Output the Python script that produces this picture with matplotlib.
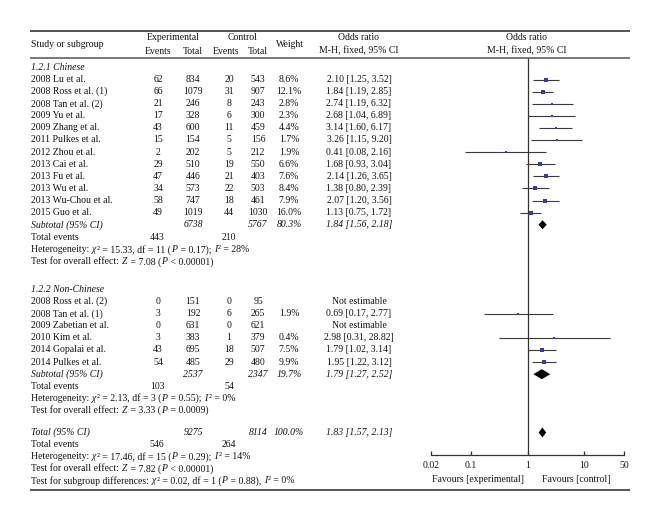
import numpy as np
import matplotlib.pyplot as plt

plt.rcParams["font.family"] = ["Liberation Serif", "DejaVu Serif"]
FS = 7.05
INK = "#141414"

# ---- data: 1.2.1 Chinese ----
cn_study = ["2008 Lu et al.", "2008 Ross et al. (1)", "2008 Tan et al. (2)",
            "2009 Yu et al.", "2009 Zhang et al.", "2011 Pulkes et al.",
            "2012 Zhou et al.", "2013 Cai et al.", "2013 Fu et al.",
            "2013 Wu et al.", "2013 Wu-Chou et al.", "2015 Guo et al."]
cn_exp_events = [62, 66, 21, 17, 43, 15, 2, 29, 47, 34, 58, 49]
cn_exp_total = [834, 1079, 246, 328, 600, 154, 202, 510, 446, 573, 747, 1019]
cn_ctl_events = [20, 31, 8, 6, 11, 5, 5, 19, 21, 22, 18, 44]
cn_ctl_total = [543, 907, 243, 300, 459, 156, 212, 550, 403, 503, 461, 1030]
cn_weight = [8.6, 12.1, 2.8, 2.3, 4.4, 1.7, 1.9, 6.6, 7.6, 8.4, 7.9, 16.0]
cn_or = [2.10, 1.84, 2.74, 2.68, 3.14, 3.26, 0.41, 1.68, 2.14, 1.38, 2.07, 1.13]
cn_lo = [1.25, 1.19, 1.19, 1.04, 1.60, 1.15, 0.08, 0.93, 1.26, 0.80, 1.20, 0.75]
cn_hi = [3.52, 2.85, 6.32, 6.89, 6.17, 9.20, 2.16, 3.04, 3.65, 2.39, 3.56, 1.72]
cn_sub = dict(exp_total=6738, ctl_total=5767, weight=80.3, est=1.84, lo=1.56, hi=2.18,
              exp_events=443, ctl_events=210)
# italic pieces are wrapped in underscores
cn_het = "Heterogeneity: _\u03c7_\u00b2 = 15.33, df = 11 (_P_ = 0.17); _I_\u00b2 = 28%"
cn_test = "Test for overall effect: _Z_ = 7.08 (_P_ < 0.00001)"

# ---- data: 1.2.2 Non-Chinese ----
nc_study = ["2008 Ross et al. (2)", "2008 Tan et al. (1)", "2009 Zabetian et al.",
            "2010 Kim et al.", "2014 Gopalai et al.", "2014 Pulkes et al."]
nc_exp_events = [0, 3, 0, 3, 43, 54]
nc_exp_total = [151, 192, 631, 383, 695, 485]
nc_ctl_events = [0, 6, 0, 1, 18, 29]
nc_ctl_total = [95, 265, 621, 379, 507, 480]
nc_weight = [np.nan, 1.9, np.nan, 0.4, 7.5, 9.9]
nc_or = [np.nan, 0.69, np.nan, 2.98, 1.79, 1.95]
nc_lo = [np.nan, 0.17, np.nan, 0.31, 1.02, 1.22]
nc_hi = [np.nan, 2.77, np.nan, 28.82, 3.14, 3.12]
nc_sub = dict(exp_total=2537, ctl_total=2347, weight=19.7, est=1.79, lo=1.27, hi=2.52,
              exp_events=103, ctl_events=54)
nc_het = "Heterogeneity: _\u03c7_\u00b2 = 2.13, df = 3 (_P_ = 0.55); _I_\u00b2 = 0%"
nc_test = "Test for overall effect: _Z_ = 3.33 (_P_ = 0.0009)"

# ---- overall ----
tot = dict(exp_total=9275, ctl_total=8114, weight=100.0, est=1.83, lo=1.57, hi=2.13,
           exp_events=546, ctl_events=264)
tot_het = "Heterogeneity: _\u03c7_\u00b2 = 17.46, df = 15 (_P_ = 0.29); _I_\u00b2 = 14%"
tot_test = "Test for overall effect: _Z_ = 7.82 (_P_ < 0.00001)"
sub_test = "Test for subgroup differences: _\u03c7_\u00b2 = 0.02, df = 1 (_P_ = 0.88), _I_\u00b2 = 0%"

ticks = [0.02, 0.1, 1, 10, 50]
tick_labels = ["0.02", "0.1", "1", "10", "50"]

# ---- layout (pixels, top-down) ----
W, H = 660, 522
ROW = 12.1
X_LEFT, X_RIGHT = 30, 630
X_TXT = 31
X_EE, X_ET, X_CE, X_CT, X_W, X_OR = 158, 193, 229, 258, 289, 359
FP_L, FP_R = 431, 624
Y_AXIS = 455

fig = plt.figure(figsize=(W / 100, H / 100), dpi=100)
tab = fig.add_axes([0, 0, 1, 1])
tab.set_xlim(0, W)
tab.set_ylim(H, 0)
tab.axis("off")
renderer = fig.canvas.get_renderer()

fp = fig.add_axes([FP_L / W, 0, (FP_R - FP_L) / W, 1])
fp.set_facecolor("none")
fp.set_xscale("log")
fp.set_xlim(0.02, 50)
fp.set_ylim(H, 0)
for s in ["top", "left", "right"]:
    fp.spines[s].set_visible(False)
fp.spines["bottom"].set_position(("data", Y_AXIS))
fp.spines["bottom"].set_color("#333333")
fp.spines["bottom"].set_linewidth(0.9)
fp.set_yticks([])
fp.set_xticks(ticks, tick_labels)
fp.minorticks_off()
fp.tick_params(axis="x", direction="in", length=3, width=0.9, color="#333333",
               labelsize=FS, pad=4, labelcolor=INK)


def txt(x, y, s, ha="center", italic=False):
    return tab.text(x, y, s, ha=ha, va="center", fontsize=FS, color=INK,
                    style="italic" if italic else "normal")


def text_width(s, italic):
    # pad with bars so leading/trailing spaces are counted
    t = txt(0, 0, "|" + s + "|", ha="left", italic=italic)
    w = t.get_window_extent(renderer).width
    t.remove()
    t = txt(0, 0, "||", ha="left", italic=italic)
    w -= t.get_window_extent(renderer).width
    t.remove()
    return w


def rich(x, y, s):
    for i, piece in enumerate(s.split("_")):
        if not piece:
            continue
        italic = i % 2 == 1
        txt(x, y, piece, ha="left", italic=italic)
        # italic glyphs lean right, leave a little room after them
        x += text_width(piece, italic) + (1.0 if italic else 0)


def diamond(y, est, lo, hi, h=4.8):
    fp.fill([lo, est, hi, est], [y, y - h, y, y + h], color="black", lw=0)


def study_block(y0, names, ee, et, ce, ct, w, orv, lo, hi):
    for i, name in enumerate(names):
        y = y0 + i * ROW
        txt(X_TXT, y, name, ha="left")
        txt(X_EE, y, str(ee[i]))
        txt(X_ET, y, str(et[i]))
        txt(X_CE, y, str(ce[i]))
        txt(X_CT, y, str(ct[i]))
        if np.isnan(orv[i]):
            txt(X_OR, y, "Not estimable")
            continue
        txt(X_W, y, f"{w[i]:.1f}%")
        txt(X_OR, y, f"{orv[i]:.2f} [{lo[i]:.2f}, {hi[i]:.2f}]")
        fp.plot([lo[i], hi[i]], [y, y], color="#3a3a3a", lw=0.8, solid_capstyle="butt")
        fp.plot(orv[i], y, marker="s", color="#3b3b9c", ms=1.2 + 0.45 * np.sqrt(w[i]),
                mew=0)
    return y0 + len(names) * ROW


def summary_row(y, label, d, h=4.8):
    txt(X_TXT, y, label, ha="left", italic=True)
    txt(X_ET, y, str(d["exp_total"]), italic=True)
    txt(X_CT, y, str(d["ctl_total"]), italic=True)
    txt(X_W, y, f"{d['weight']:.1f}%", italic=True)
    txt(X_OR, y, f"{d['est']:.2f} [{d['lo']:.2f}, {d['hi']:.2f}]", italic=True)
    diamond(y, d["est"], d["lo"], d["hi"], h)


def events_row(y, d):
    txt(X_TXT, y, "Total events", ha="left")
    txt(X_EE - 1, y, str(d["exp_events"]))
    txt(X_CE, y, str(d["ctl_events"]))


# rules
tab.hlines([31, 490], X_LEFT, X_RIGHT, color="#555555", lw=1.4)
tab.hlines(58, X_LEFT, X_RIGHT, color="#555555", lw=1.1)

# header
txt(X_TXT, 44.5, "Study or subgroup", ha="left")
txt(173, 38, "Experimental")
txt(243, 38, "Control")
txt(X_EE, 51, "Events")
txt(X_ET, 51, "Total")
txt(X_CE - 3, 51, "Events")
txt(X_CT, 51, "Total")
txt(X_W + 1, 44.5, "Weight")
txt(X_OR, 38, "Odds ratio")
txt(X_OR, 51, "M-H, fixed, 95% CI")
txt(527, 38, "Odds ratio")
txt(527, 51, "M-H, fixed, 95% CI")

# null line
fp.vlines(1, 58, Y_AXIS, color="#333333", lw=0.9)

# group 1
txt(X_TXT, 67.5, "1.2.1 Chinese", ha="left", italic=True)
y = study_block(79.5, cn_study, cn_exp_events, cn_exp_total, cn_ctl_events,
                cn_ctl_total, cn_weight, cn_or, cn_lo, cn_hi)
summary_row(y, "Subtotal (95% CI)", cn_sub, h=4.5)
events_row(y + ROW + 0.8, cn_sub)
rich(X_TXT, y + 2 * ROW + 0.8, cn_het)
rich(X_TXT, y + 3 * ROW + 0.8, cn_test)

# group 2
txt(X_TXT, 289.5, "1.2.2 Non-Chinese", ha="left", italic=True)
y = study_block(301.6, nc_study, nc_exp_events, nc_exp_total, nc_ctl_events,
                nc_ctl_total, nc_weight, nc_or, nc_lo, nc_hi)
summary_row(y, "Subtotal (95% CI)", nc_sub, h=5)
events_row(y + ROW, nc_sub)
rich(X_TXT, y + 2 * ROW, nc_het)
rich(X_TXT, y + 3 * ROW, nc_test)

# overall
y = 432.5
summary_row(y, "Total (95% CI)", tot, h=5)
events_row(y + ROW, tot)
rich(X_TXT, y + 2 * ROW, tot_het)
rich(X_TXT, y + 3 * ROW, tot_test)
rich(X_TXT, y + 4 * ROW, sub_test)

fp.text(0.875, 479, "Favours [experimental]", ha="right", va="center", fontsize=FS, color=INK)
fp.text(1.81, 479, "Favours [control]", ha="left", va="center", fontsize=FS, color=INK)

fig.savefig("out.png", dpi=100)
